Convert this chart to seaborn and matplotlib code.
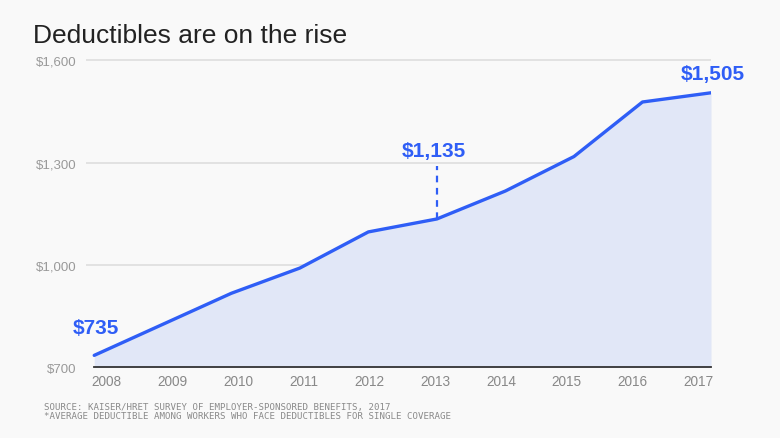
import pandas as pd
import numpy as np
import matplotlib.pyplot as plt
import matplotlib.transforms as mtransforms
import seaborn as sns

years = [2008, 2009, 2010, 2011, 2012, 2013, 2014, 2015, 2016, 2017]
deductible = [735, 826, 917, 991, 1097, 1135, 1217, 1318, 1478, 1505]
y_ticks = [700, 1000, 1300, 1600]
y_labels = ["$700", "$1,000", "$1,300", "$1,600"]
callouts = {2008: "$735", 2013: "$1,135", 2017: "$1,505"}

df = pd.DataFrame({"year": years, "deductible": deductible})

blue = "#2f5ef6"
fill = "#e1e7f7"
bg = "#f9f9f9"

sns.set_style("white")
plt.rcParams["font.family"] = ["Liberation Sans", "DejaVu Sans"]

fig = plt.figure(figsize=(7.8, 4.39), dpi=100, facecolor=bg)
ax = fig.add_axes([86 / 780, 1 - 368.3 / 439, 625 / 780, 324.3 / 439])
ax.set_facecolor(bg)

ax.fill_between(df["year"], df["deductible"], 700, color=fill, lw=0, zorder=1)
sns.lineplot(data=df, x="year", y="deductible", color=blue, lw=2.4, ax=ax, zorder=3)

ax.set_xlim(2008 - 0.12, 2017)
ax.set_ylim(700, 1651)
ax.set_yticks(y_ticks)
ax.set_yticklabels(y_labels)
ax.set_xticks(years)
ax.set_xticklabels([str(y) for y in years])
ax.set_xlabel("")
ax.set_ylabel("")

for t in y_ticks[1:]:
    ax.axhline(t, color="#e2e2e2", lw=1.4, zorder=0)

for s in ["top", "right", "left"]:
    ax.spines[s].set_visible(False)
ax.spines["bottom"].set_color("#333333")
ax.spines["bottom"].set_linewidth(1.3)
ax.spines["bottom"].set_bounds(years[0], years[-1])
ax.spines["bottom"].set_zorder(4)

ax.tick_params(axis="y", length=0, pad=7, labelsize=9.5, labelcolor="#999999")
ax.tick_params(axis="x", length=0, pad=5, labelsize=9.8, labelcolor="#888888")

# year labels are spread a bit tighter than the data points
n = len(years)
for i, lab in enumerate(ax.get_xticklabels()):
    dx = (12.7 - 25.4 * i / (n - 1)) / 100
    lab.set_transform(lab.get_transform() +
                      mtransforms.ScaledTranslation(dx, 0, fig.dpi_scale_trans))

# callout labels
yr = {y: v for y, v in zip(years, deductible)}
ax.text(2008 - 0.31, yr[2008] + 82, callouts[2008], color=blue, fontsize=15,
        fontweight="bold", ha="left", va="center")
ax.text(2013 - 0.045, yr[2013] + 202, callouts[2013], color=blue, fontsize=15,
        fontweight="bold", ha="center", va="center", zorder=5)
ax.vlines(2013, yr[2013], yr[2013] + 154, color=blue, lw=1.6,
          linestyles=(0, (3, 2.5)), zorder=3)
t = ax.text(2017 + 0.03, yr[2017] + 58, callouts[2017], color=blue, fontsize=15,
            fontweight="bold", ha="center", va="center", zorder=5)
t.set_clip_on(False)

fig.text(33 / 780, 1 - 42.7 / 439, "Deductibles are on the rise", fontsize=19,
         color="#222222", ha="left", va="baseline")
fig.text(44 / 780, 1 - 407.7 / 439,
         "SOURCE: KAISER/HRET SURVEY OF EMPLOYER-SPONSORED BENEFITS, 2017",
         fontsize=6.6, color="#8a8a8a", ha="left", va="center",
         family=["DejaVu Sans Mono", "DejaVu Sans"])
fig.text(44 / 780, 1 - 416.7 / 439,
         "*AVERAGE DEDUCTIBLE AMONG WORKERS WHO FACE DEDUCTIBLES FOR SINGLE COVERAGE",
         fontsize=6.6, color="#8a8a8a", ha="left", va="center",
         family=["DejaVu Sans Mono", "DejaVu Sans"])

fig.savefig("out.png", dpi=100, facecolor=bg)
